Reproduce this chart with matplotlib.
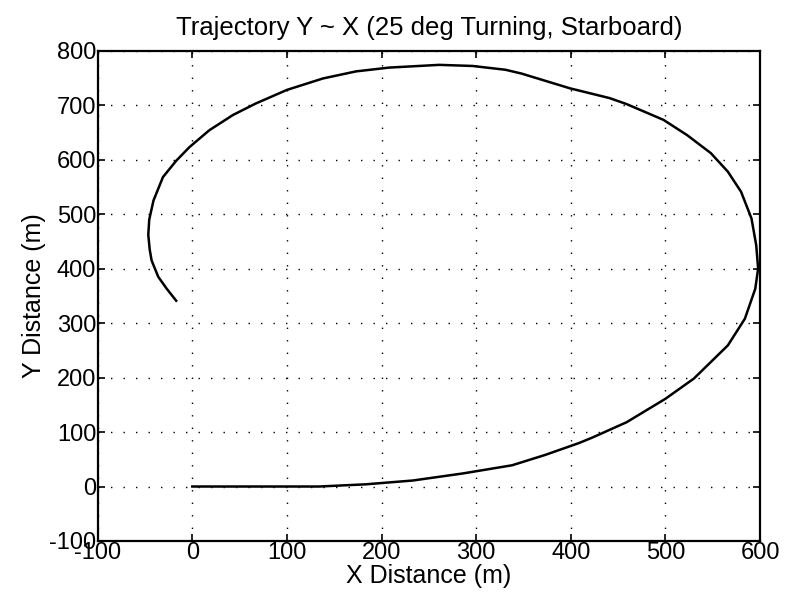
import numpy as np
import matplotlib
matplotlib.use('Agg')
import matplotlib.pyplot as plt

# trajectory points (m), in order of travel
x_dist = [0, 134, 183, 233, 286, 338, 373, 409, 423, 459, 500, 530, 566, 584, 595,
          598, 596, 591, 580, 566, 548, 523, 498, 459, 441, 399, 348, 331, 296,
          261, 208, 173, 138, 100, 67, 43, 18, -3, -17, -31, -41, -45.5, -46.5,
          -45, -43, -36, -27, -17]
y_dist = [0, 0, 4, 11, 24, 39, 58, 80, 90, 118, 161, 198, 259, 308, 363,
          400, 443, 492, 541, 578, 612, 645, 673, 702, 713, 731, 758, 765, 772,
          774, 769, 762, 749, 728, 703, 682, 654, 623, 598, 568, 525, 490, 462,
          435, 415, 385, 363, 341]

x_ticks = [-100, 0, 100, 200, 300, 400, 500, 600]
y_ticks = [-100, 0, 100, 200, 300, 400, 500, 600, 700, 800]

plt.rcParams['font.family'] = ['Liberation Sans', 'DejaVu Sans']
plt.rcParams['axes.unicode_minus'] = False

fig = plt.figure(figsize=(7.87, 6.05), dpi=100)
ax = fig.add_axes([0.1241, 0.1058, 0.8416, 0.8104])

ax.plot(x_dist, y_dist, color='k', linewidth=1.8, solid_joinstyle='round')

ax.set_xlim(-100, 600)
ax.set_ylim(-100, 800)
ax.set_xticks(x_ticks)
ax.set_yticks(y_ticks)
ax.tick_params(direction='in', top=True, right=True, length=5, width=1.2,
               labelsize=17, pad=1)
ax.grid(True, color='k', linestyle=(0, (1, 8)), linewidth=1.0)
for s in ax.spines.values():
    s.set_linewidth(1.6)

ax.set_title('Trajectory Y ~ X (25 deg Turning, Starboard)', fontsize=18.5, pad=11)
ax.set_xlabel('X Distance (m)', fontsize=18, labelpad=0)
ax.set_ylabel('Y Distance (m)', fontsize=18, labelpad=2)

fig.savefig('out.png', dpi=100)
